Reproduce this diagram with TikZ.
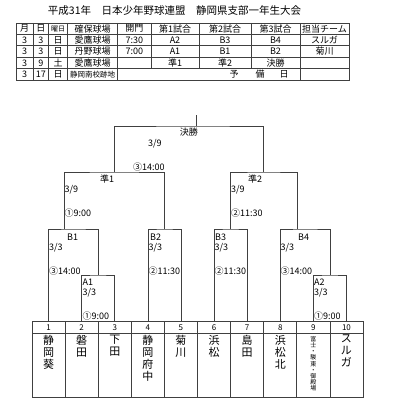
\documentclass[tikz,border=0pt]{standalone}
\usepackage{fontspec}
\setmainfont{Noto Sans CJK JP}
\begin{document}
\begin{tikzpicture}[x=1pt,y=-1pt,
  ln/.style={draw=black!75, line width=0.7pt},
  tbl/.style={font=\fontsize{9}{10}\selectfont, inner sep=0pt},
  lbl/.style={font=\fontsize{9}{10}\selectfont, inner sep=0pt, anchor=west},
  tname/.style={font=\fontsize{11}{12}\selectfont, inner sep=0pt, anchor=north, align=center},
  tsmall/.style={font=\fontsize{6}{6.2}\selectfont, inner sep=0pt, anchor=north, align=center},
  tnum/.style={font=\fontsize{8}{9}\selectfont, inner sep=0pt}]
\useasboundingbox[fill=white] (0,0) rectangle (400,419);

% title
\node[font=\fontsize{10.5}{12}\selectfont, inner sep=0pt] (title) at (174.5,11)
  {平成31年　日本少年野球連盟　静岡県支部一年生大会};

% schedule table
\draw[ln] (16,23) rectangle (349,80);
\foreach \y in {34.4,45.8,57.2,68.6} \draw[ln] (16,\y) -- (349,\y);
\foreach \x in {33,48.5,67.5,117.5,300} \draw[ln] (\x,23) -- (\x,80);
\foreach \x in {151,199,251} \draw[ln] (\x,23) -- (\x,68.6);

\foreach [count=\i] \x/\t in {24.5/月,40.75/日,58/{\fontsize{7}{8}\selectfont 曜日},92.5/確保球場,134.25/開門,175/第1試合,225/第2試合,275.5/第3試合,324.5/担当チーム}
  \node[tbl] (h\i) at (\x,28.7) {\t};
\foreach [count=\i] \x/\t in {24.5/3,40.75/3,58/日,92.5/愛鷹球場,134.25/7:30,175/A2,225/B3,275.5/B4,324.5/スルガ}
  \node[tbl] (ra\i) at (\x,40.1) {\t};
\foreach [count=\i] \x/\t in {24.5/3,40.75/3,58/日,92.5/丹野球場,134.25/7:00,175/A1,225/B1,275.5/B2,324.5/菊川}
  \node[tbl] (rb\i) at (\x,51.5) {\t};
\foreach [count=\i] \x/\t in {24.5/3,40.75/9,58/土,92.5/愛鷹球場,175/準1,225/準2,275.5/決勝}
  \node[tbl] (rc\i) at (\x,62.9) {\t};
\foreach [count=\i] \x/\t in {24.5/3,40.75/17,58/日,92.5/{\fontsize{7.5}{8}\selectfont 静岡南校跡地},234/予,260/備,284/日}
  \node[tbl] (rd\i) at (\x,74.3) {\t};

% team table
\draw[ln] (32,321) rectangle (363,397);
\draw[ln] (32,333) -- (363,333);
\foreach \i in {1,...,9} \draw[ln] ({32+33.1*\i},321) -- ({32+33.1*\i},397);
\foreach \i in {1,...,10} {
  \coordinate (t\i) at ({32+33.1*(\i-0.5)},321);
  \node[tnum] (n\i) at ({32+33.1*(\i-0.5)},327.5) {\i};
}
\foreach \i/\t in {1/静\\岡\\葵,2/磐\\田,3/下\\田,4/静\\岡\\府\\中,5/菊\\川,6/浜\\松,7/島\\田,8/浜\\松\\北,10/ス\\ル\\ガ}
  \node[tname] (name\i) at ({32+33.1*(\i-0.5)},335) {\t};
\node[tsmall] (name9) at ({32+33.1*8.5},336) {富\\士\\・\\駿\\東\\・\\御\\殿\\場};

% bracket junctions
\coordinate (a1) at (98.2,275);
\coordinate (a2) at (329.9,275);
\coordinate (b1) at (73.4,229);
\coordinate (b2) at (164.4,229);
\coordinate (b3) at (230.6,229);
\coordinate (b4) at (305,229);
\coordinate (s1leg) at (64,229);
\coordinate (s2leg) at (297,229);
\coordinate (s1) at (114.2,172);
\coordinate (s2) at (263.8,172);
\coordinate (fin) at (196.7,126);
\coordinate (win) at (196.7,115);

\draw[ln] (t2) |- (a1) -| (t3);
\draw[ln] (t9) |- (a2) -| (t10);
\draw[ln] (t1) |- (b1) -| (a1);
\draw[ln] (t4) |- (b2) -| (t5);
\draw[ln] (t6) |- (b3) -| (t7);
\draw[ln] (t8) |- (b4) -| (a2);
\draw[ln] (s1leg) |- (s1) -| (b2);
\draw[ln] (b3) |- (s2) -| (s2leg);
\draw[ln] (s1) |- (fin) -| (s2);
\draw[ln] (fin) -- (win);

% match labels
\node[lbl, anchor=east] (fL) at (198,132.5) {決勝};
\node[lbl] (fD) at (148,144) {3/9};
\node[lbl] (fT) at (133,167) {③14:00};

\node[lbl] (sAL) at (100,179) {準1};
\node[lbl] (sAD) at (64.5,190) {3/9};
\node[lbl] (sAT) at (64.5,213) {①9:00};

\node[lbl] (sBL) at (248,179) {準2};
\node[lbl] (sBD) at (231,190) {3/9};
\node[lbl] (sBT) at (231,213) {②11:30};

\node[lbl] (bAL) at (67,237) {B1};
\node[lbl] (bAD) at (49,248) {3/3};
\node[lbl] (bAT) at (49,271) {③14:00};

\node[lbl] (bBL) at (150,237) {B2};
\node[lbl] (bBD) at (148.5,248) {3/3};
\node[lbl] (bBT) at (148.5,271) {②11:30};

\node[lbl] (bCL) at (215,237) {B3};
\node[lbl] (bCD) at (214.5,248) {3/3};
\node[lbl] (bCT) at (214.5,271) {②11:30};

\node[lbl] (bDL) at (298,237) {B4};
\node[lbl] (bDD) at (280.5,248) {3/3};
\node[lbl] (bDT) at (280.5,271) {③14:00};

\node[lbl] (aAL) at (82.5,282) {A1};
\node[lbl] (aAD) at (82.5,293) {3/3};
\node[lbl] (aAT) at (82.5,316.5) {①9:00};

\node[lbl] (aBL) at (314,282) {A2};
\node[lbl] (aBD) at (314,293) {3/3};
\node[lbl] (aBT) at (314,316.5) {①9:00};
\end{tikzpicture}
\end{document}
